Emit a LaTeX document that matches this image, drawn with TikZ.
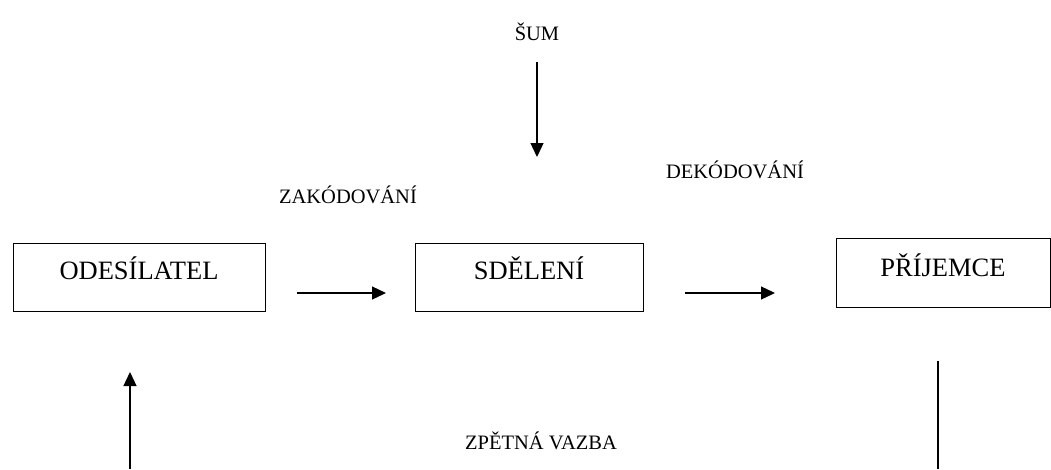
\documentclass[tikz,border=0pt]{standalone}
\usepackage{fontspec}
\usetikzlibrary{arrows.meta}
\setmainfont{Liberation Serif}
\begin{document}
\begin{tikzpicture}[x=1pt,y=-1pt,
  box/.style={draw,line width=1.3pt,anchor=north west,inner sep=0pt},
  big/.style={font=\fontsize{26.5}{30}\selectfont},
  small/.style={font=\fontsize{20.5}{24}\selectfont},
  arr/.style={line width=1.3pt,-{Triangle[length=14pt,width=13pt]}},
  ln/.style={line width=1.3pt}]
\useasboundingbox (0,0) rectangle (1051,469);
\node[box,minimum width=252pt,minimum height=68pt] (odes) at (13,243) {};
\node[big] (odest) at (139,268) {ODESÍLATEL};
\node[box,minimum width=228pt,minimum height=68pt] (sdel) at (415,243) {};
\node[big] (sdelt) at (529,268) {SDĚLENÍ};
\node[box,minimum width=214pt,minimum height=69pt] (prij) at (836,238) {};
\node[big] (prijt) at (943,265) {PŘÍJEMCE};
\node[small] (sum) at (537,32) {ŠUM};
\node[small] (zak) at (348,195) {ZAKÓDOVÁNÍ};
\node[small] (dek) at (735,170) {DEKÓDOVÁNÍ};
\node[small] (zpet) at (541,441) {ZPĚTNÁ VAZBA};
\coordinate (a1s) at (297,293); \coordinate (a1e) at (386,293);
\coordinate (a2s) at (685,293); \coordinate (a2e) at (775,293);
\coordinate (s1) at (537,62); \coordinate (s2) at (537,157);
\coordinate (u1) at (130,469); \coordinate (u2) at (130,372);
\coordinate (v1) at (938,361); \coordinate (v2) at (938,469);
\draw[arr] (a1s) -- (a1e);
\draw[arr] (a2s) -- (a2e);
\draw[arr] (s1) -- (s2);
\draw[arr] (u1) -- (u2);
\draw[ln] (v1) -- (v2);
\end{tikzpicture}
\end{document}
